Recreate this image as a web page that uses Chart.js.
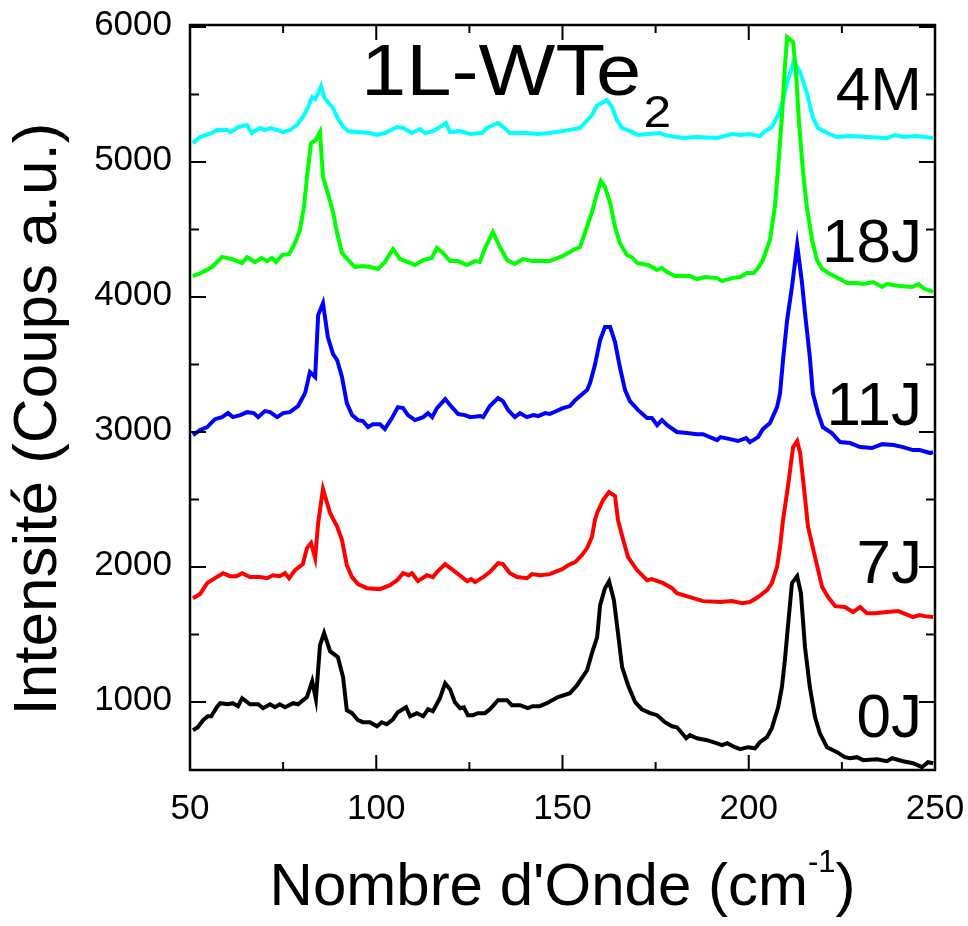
<!DOCTYPE html>
<html>
<head>
<meta charset="utf-8">
<script src="https://cdn.jsdelivr.net/npm/chart.js"></script>
<style>
  html, body { margin: 0; padding: 0; background: #fff; }
  #wrap { width: 968px; height: 926px; }
</style>
</head>
<body>
<div id="wrap"><canvas id="raman" width="968" height="926"></canvas></div>
<script>
// axis ticks
const xTicks = [50, 100, 150, 200, 250];
const xMinor = [75, 125, 175, 225];
const yTicks = [1000, 2000, 3000, 4000, 5000, 6000];
const yMinor = [1500, 2500, 3500, 4500, 5500];

// series names + colours (bottom to top)
const seriesNames = ['0J', '7J', '11J', '18J', '4M'];
const seriesColors = ['#000000', '#ff0000', '#0000ff', '#00ff00', '#00ffff'];

// [wavenumber, intensity]
const s0J = [[50.8,791],[52.1,813],[53.5,865],[54.8,894],[55.7,894],[57.2,961],[58.1,991],[60.2,983],[61.5,991],[62.9,969],[64.0,1028],[66.1,983],[68.3,983],[69.6,954],[71.5,983],[72.8,961],[74.1,983],[75.5,961],[77.7,991],[79.0,983],[81.4,1036],[82.8,1154],[83.8,1021],[84.9,1421],[86.0,1510],[87.6,1376],[89.7,1332],[91.1,1183],[92.1,939],[93.5,917],[95.1,865],[96.4,850],[98.3,850],[100.2,820],[101.5,850],[102.8,835],[104.5,872],[105.8,924],[108.0,961],[109.1,894],[110.9,917],[112.6,894],[113.9,946],[115.2,932],[117.1,1028],[118.5,1139],[119.8,1095],[121.1,998],[122.5,954],[123.5,961],[124.6,902],[126.0,902],[127.3,917],[129.2,917],[130.5,946],[132.7,1013],[135.1,1013],[136.4,976],[138.6,976],[140.7,954],[142.0,969],[143.9,969],[145.8,991],[148.8,1036],[152.0,1065],[153.9,1124],[156.6,1235],[157.9,1362],[159.3,1480],[160.1,1717],[161.4,1843],[162.5,1895],[163.8,1754],[164.9,1510],[166.0,1258],[167.6,1124],[169.5,998],[171.3,946],[173.5,917],[175.4,902],[177.5,850],[179.4,820],[180.7,813],[182.1,768],[183.2,731],[184.2,754],[186.1,731],[188.8,717],[191.5,694],[192.8,680],[194.2,694],[196.3,665],[197.7,650],[199.8,665],[201.7,657],[203.0,702],[204.9,739],[206.2,806],[207.9,961],[208.9,1110],[209.7,1310],[210.5,1554],[211.6,1880],[213.0,1932],[214.0,1806],[215.1,1406],[216.4,1110],[217.8,887],[219.1,768],[221.0,665],[223.7,628],[225.8,591],[227.2,583],[229.1,591],[230.7,569],[234.4,576],[237.1,561],[238.5,583],[241.4,561],[244.1,546],[246.5,517],[248.1,554],[249.5,546]];

const s7J = [[50.8,1769],[52.7,1799],[54.6,1880],[56.7,1917],[58.9,1954],[60.7,1932],[62.5,1932],[64.0,1954],[66.1,1925],[68.8,1925],[70.7,1917],[72.3,1939],[74.1,1932],[75.5,1954],[76.6,1917],[78.2,1977],[80.3,2021],[81.4,2140],[82.5,2177],[83.6,2066],[84.4,2325],[85.7,2577],[87.6,2400],[89.5,2300],[90.8,2199],[92.1,2013],[93.5,1925],[95.1,1873],[97.5,1843],[101.0,1836],[103.7,1865],[105.6,1902],[107.2,1954],[108.7,1939],[109.6,1954],[111.2,1895],[113.6,1939],[115.2,1925],[116.3,1962],[118.5,2021],[120.6,1977],[124.4,1895],[125.5,1910],[126.5,1888],[128.7,1925],[130.5,1962],[132.7,2028],[134.0,2021],[135.9,1954],[137.8,1925],[140.5,1917],[141.8,1947],[144.0,1939],[146.6,1947],[149.9,1984],[151.5,2013],[153.4,2036],[155.2,2088],[156.6,2140],[157.9,2222],[158.7,2347],[159.3,2400],[160.9,2496],[162.5,2555],[164.1,2525],[164.9,2347],[166.3,2199],[167.6,2073],[170.0,1977],[172.7,1902],[174.0,1910],[177.0,1880],[179.4,1843],[180.7,1806],[184.2,1777],[187.7,1747],[192.3,1740],[195.5,1747],[198.2,1732],[200.3,1740],[202.5,1777],[204.9,1828],[206.2,1880],[207.6,1999],[208.4,2147],[209.2,2347],[210.5,2592],[211.9,2888],[213.0,2933],[213.8,2844],[214.8,2592],[215.9,2300],[217.8,2073],[219.7,1851],[221.3,1777],[223.2,1710],[225.8,1703],[228.0,1666],[229.9,1703],[231.7,1658],[233.9,1658],[237.1,1666],[240.1,1673],[242.8,1644],[244.1,1629],[245.9,1644],[247.2,1636],[249.5,1629]];

const s11J = [[50.8,2977],[52.7,3014],[54.6,3036],[56.7,3095],[58.6,3110],[60.2,3140],[61.5,3110],[63.5,3125],[65.3,3147],[67.1,3140],[68.3,3110],[70.1,3155],[71.5,3147],[73.4,3110],[75.0,3140],[76.8,3147],[79.0,3192],[80.9,3288],[82.2,3444],[83.6,3407],[84.4,3866],[85.7,3955],[87.0,3703],[88.4,3577],[89.5,3533],[90.8,3407],[92.1,3214],[93.5,3125],[95.1,3088],[96.4,3081],[97.8,3036],[99.1,3058],[101.0,3058],[102.3,3021],[104.2,3103],[105.8,3184],[107.2,3177],[108.5,3125],[110.4,3088],[112.6,3110],[113.9,3140],[115.0,3110],[116.3,3177],[118.5,3244],[120.3,3184],[122.0,3133],[123.8,3125],[125.2,3110],[127.9,3118],[128.7,3110],[130.5,3192],[132.7,3251],[134.0,3229],[135.4,3162],[137.2,3110],[138.6,3140],[140.4,3110],[142.2,3125],[143.5,3118],[145.3,3140],[146.6,3133],[150.1,3177],[152.0,3192],[153.4,3236],[156.6,3310],[157.4,3362],[158.7,3496],[160.1,3681],[161.4,3777],[162.8,3777],[164.1,3666],[165.4,3481],[166.8,3310],[168.1,3229],[170.3,3162],[172.7,3103],[174.0,3103],[175.4,3051],[176.7,3088],[178.1,3051],[180.7,3000],[183.4,2992],[186.1,2984],[187.7,2984],[191.5,2940],[192.4,2962],[195.0,2947],[197.1,2933],[199.3,2955],[200.3,2925],[202.5,2962],[203.8,3021],[205.7,3066],[207.6,3184],[208.4,3288],[209.2,3533],[210.3,3829],[211.6,4074],[213.0,4385],[214.3,4104],[215.1,3881],[216.4,3555],[217.2,3288],[218.6,3140],[219.9,3036],[222.3,2992],[224.5,2925],[227.2,2918],[229.9,2888],[233.1,2881],[235.8,2910],[238.9,2903],[241.4,2888],[244.1,2866],[245.9,2866],[248.7,2844],[249.5,2851]];

const s18J = [[50.8,4155],[53.5,4185],[55.9,4222],[58.6,4296],[61.3,4281],[64.0,4252],[65.3,4296],[67.4,4259],[69.3,4289],[70.7,4266],[72.0,4289],[73.1,4259],[74.7,4311],[76.6,4318],[78.2,4400],[79.5,4496],[80.6,4666],[81.4,4889],[82.5,5140],[83.8,5163],[84.9,5222],[85.7,4889],[87.0,4770],[88.4,4629],[89.5,4474],[90.8,4326],[93.0,4259],[94.3,4222],[96.4,4229],[98.3,4222],[100.5,4207],[102.3,4259],[104.5,4355],[106.4,4281],[108.5,4259],[110.4,4237],[112.6,4274],[114.9,4289],[116.3,4363],[117.9,4326],[119.8,4266],[121.9,4266],[124.4,4237],[126.5,4266],[127.8,4259],[129.2,4363],[131.3,4481],[133.2,4370],[135.1,4274],[137.2,4244],[139.4,4281],[142.0,4266],[146.6,4266],[150.1,4304],[153.4,4355],[154.7,4370],[156.0,4474],[157.9,4629],[159.3,4770],[160.3,4859],[161.4,4815],[162.8,4696],[164.1,4518],[165.4,4400],[167.3,4311],[168.6,4296],[170.0,4252],[173.0,4237],[175.4,4200],[176.7,4215],[178.1,4185],[180.2,4155],[184.2,4155],[186.1,4133],[188.3,4148],[191.5,4140],[192.8,4118],[195.5,4140],[197.7,4148],[199.5,4178],[201.3,4178],[202.5,4215],[203.8,4274],[205.7,4422],[207.0,4666],[207.9,4963],[208.9,5333],[209.7,5704],[210.3,5926],[211.9,5889],[212.7,5659],[213.5,5289],[214.6,4918],[215.6,4666],[217.0,4422],[218.3,4274],[219.7,4207],[221.8,4170],[224.5,4133],[226.4,4103],[229.1,4103],[230.7,4096],[233.4,4111],[235.8,4074],[237.1,4096],[240.6,4081],[243.8,4074],[245.6,4096],[246.8,4066],[249.5,4037]];

const s4M = [[50.8,5140],[52.7,5185],[55.9,5215],[57.2,5237],[59.9,5237],[61.0,5222],[62.9,5259],[65.3,5274],[66.6,5215],[68.8,5252],[70.0,5237],[71.5,5252],[73.4,5237],[75.0,5222],[76.8,5237],[78.7,5274],[80.3,5333],[81.7,5407],[82.8,5481],[83.6,5466],[84.4,5511],[85.2,5563],[86.0,5481],[87.0,5444],[88.4,5400],[89.5,5333],[90.8,5274],[92.4,5229],[94.8,5222],[98.3,5215],[100.2,5200],[102.3,5215],[105.6,5259],[107.2,5252],[109.6,5215],[111.7,5244],[113.1,5215],[115.2,5229],[117.1,5259],[118.7,5289],[119.8,5222],[122.5,5229],[125.2,5207],[128.4,5215],[129.7,5252],[132.7,5289],[134.1,5259],[135.9,5215],[140.5,5215],[143.2,5207],[146.6,5215],[150.1,5229],[154.7,5252],[156.0,5289],[157.9,5348],[159.3,5422],[160.6,5437],[161.9,5459],[163.3,5407],[164.6,5311],[166.0,5252],[168.1,5229],[170.3,5200],[173.3,5207],[176.2,5215],[177.5,5200],[178.9,5192],[182.3,5178],[186.1,5185],[191.5,5178],[195.5,5207],[197.8,5200],[200.3,5207],[203.0,5192],[204.4,5229],[206.2,5259],[207.9,5348],[209.2,5459],[210.5,5607],[212.1,5748],[213.8,5667],[215.6,5511],[217.2,5333],[218.6,5252],[221.0,5215],[223.7,5185],[227.2,5192],[231.7,5185],[237.1,5178],[239.3,5200],[241.5,5185],[245.2,5192],[249.5,5178]];

const allSeries = [s0J, s7J, s11J, s18J, s4M];

const FONT = '"Liberation Sans", Arial, sans-serif';

// frame, inward ticks, labels and titles
const decor = {
  id: 'decor',
  afterDatasetsDraw(chart) {
    const { ctx, chartArea: a, scales: { x, y } } = chart;
    ctx.save();
    ctx.strokeStyle = '#000';
    ctx.lineWidth = 2.5;
    ctx.strokeRect(a.left, a.top, a.right - a.left, a.bottom - a.top);
    ctx.lineWidth = 2;
    ctx.beginPath();
    const xt = (v, len) => {
      const p = x.getPixelForValue(v);
      ctx.moveTo(p, a.bottom); ctx.lineTo(p, a.bottom - len);
      ctx.moveTo(p, a.top); ctx.lineTo(p, a.top + len);
    };
    const yt = (v, len) => {
      const p = y.getPixelForValue(v);
      ctx.moveTo(a.left, p); ctx.lineTo(a.left + len, p);
      ctx.moveTo(a.right, p); ctx.lineTo(a.right - len, p);
    };
    xTicks.forEach(v => xt(v, 15));
    xMinor.forEach(v => xt(v, 8));
    yTicks.forEach(v => yt(v, 16));
    yMinor.forEach(v => yt(v, 9));
    ctx.stroke();
    ctx.restore();
  },
  afterDraw(chart) {
    const { ctx, chartArea: a, scales: { x, y } } = chart;
    ctx.save();
    ctx.fillStyle = '#000';

    // series labels at the right
    const labelY = [739, 1880, 3051, 4259, 5385];
    ctx.font = '62px ' + FONT;
    ctx.textAlign = 'right';
    ctx.textBaseline = 'alphabetic';
    seriesNames.forEach((n, i) => {
      ctx.fillText(n, x.getPixelForValue(246.5), y.getPixelForValue(labelY[i]));
    });

    // 1L-WTe2 (a bit wider than the stock font)
    ctx.save();
    ctx.textAlign = 'left';
    ctx.translate(361, 95);
    ctx.scale(1.13, 1);
    ctx.font = '72px ' + FONT;
    ctx.fillText('1L-WTe', 0, 0);
    const tw = ctx.measureText('1L-WTe').width;
    ctx.font = '44px ' + FONT;
    ctx.fillText('2', tw + 2, 32);
    ctx.restore();

    // x title with superscript
    ctx.textAlign = 'left';
    const main = "Nombre d'Onde (cm";
    ctx.font = '60px ' + FONT;
    const w1 = ctx.measureText(main).width;
    const w3 = ctx.measureText(')').width;
    ctx.font = '31px ' + FONT;
    const w2 = ctx.measureText('-1').width;
    const cx = (a.left + a.right) / 2;
    const sx = cx - (w1 + w2 + w3) / 2;
    const base = 905;
    ctx.font = '60px ' + FONT;
    ctx.fillText(main, sx, base);
    ctx.font = '31px ' + FONT;
    ctx.fillText('-1', sx + w1, base - 33);
    ctx.font = '60px ' + FONT;
    ctx.fillText(')', sx + w1 + w2, base);

    // y title
    ctx.translate(56, 419);
    ctx.rotate(-Math.PI / 2);
    ctx.textAlign = 'center';
    ctx.font = '62px ' + FONT;
    ctx.fillText('Intensité (Coups a.u.)', 0, 0);
    ctx.restore();
  }
};

new Chart(document.getElementById('raman'), {
  type: 'line',
  data: {
    datasets: allSeries.map((s, i) => ({
      label: seriesNames[i],
      data: s.map(p => ({ x: p[0], y: p[1] })),
      borderColor: seriesColors[i],
      borderWidth: 4,
      pointRadius: 0,
      tension: 0,
      fill: false
    }))
  },
  options: {
    responsive: false,
    animation: false,
    devicePixelRatio: 1,
    layout: { padding: { left: 0, right: 33, top: 25, bottom: 0 } },
    plugins: { legend: { display: false }, tooltip: { enabled: false } },
    scales: {
      x: {
        type: 'linear',
        min: 50, max: 250,
        afterBuildTicks: s => { s.ticks = xTicks.map(v => ({ value: v })); },
        afterFit: s => { s.height = 156; s.paddingLeft = 0; s.paddingRight = 0; },
        grid: { display: false, drawTicks: false },
        border: { display: false },
        ticks: { color: '#000', font: { family: FONT, size: 35 }, padding: 18, maxRotation: 0, callback: v => String(v) }
      },
      y: {
        type: 'linear',
        min: 496, max: 6015,
        afterBuildTicks: s => { s.ticks = yTicks.map(v => ({ value: v })); },
        afterFit: s => { s.width = 190; s.paddingTop = 0; s.paddingBottom = 0; },
        grid: { display: false, drawTicks: false },
        border: { display: false },
        ticks: { color: '#000', font: { family: FONT, size: 35 }, padding: 18, labelOffset: -2, callback: v => String(v) }
      }
    }
  },
  plugins: [decor]
});
</script>
</body>
</html>
